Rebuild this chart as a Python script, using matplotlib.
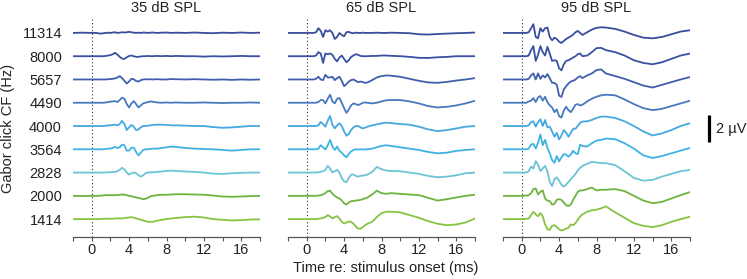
import matplotlib
matplotlib.use("Agg")
import numpy as np
import matplotlib.pyplot as plt

plt.rcParams["font.family"] = ["Liberation Sans", "DejaVu Sans"]
plt.rcParams["font.size"] = 10.5

# time grid (ms) shared by all traces
T_MS = [-2, -1, 0,
        0.5, 0.75, 1.0, 1.25, 1.5, 1.75,
        2.0, 2.25, 2.5, 2.75, 3.0, 3.25,
        3.5, 3.75, 4.0, 4.25, 4.5, 4.75,
        5.0, 5.25, 5.5, 5.75, 6.0, 6.25,
        6.5, 7, 7.5, 8, 8.5, 9,
        10, 11, 12, 13, 14, 15, 16, 17, 18]

CF_LABELS = ["11314", "8000", "5657", "4490", "4000", "3564", "2828", "2000", "1414"]
COLORS = ["#3a4c9c", "#3a50a2", "#3f5fad", "#4679bd", "#45a8de",
          "#3fb2e4", "#6cc3d6", "#6db33f", "#86c341"]
LEVELS = ["35 dB SPL", "65 dB SPL", "95 dB SPL"]

# amplitudes in uV relative to each trace's baseline
WAVES_35 = [
    [0, 0.02, 0, 0, -0.03, -0.05, -0.02, 0, 0.02, 0, 0.03, 0.05, 0, 0.02, 0.05,
     0.03, 0.05, 0.08, 0.05, 0.02, 0, 0.02, 0, 0.03, 0.02, 0, 0.02,
     0.03, 0, 0.02, 0.03, 0, 0.02, 0, 0.03, 0, -0.02, 0.02, 0, 0.03, 0, 0.02],
    [0, 0, 0, 0, 0, 0, 0, 0.02, 0.05, 0.08, 0.15, 0.25, 0.12, -0.05, -0.18,
     -0.2, -0.08, 0.02, 0.05, 0, -0.05, -0.05, -0.02, 0, 0, 0.02, 0,
     0, 0.02, 0, 0.02, 0, 0.02, 0, 0, -0.03, 0, -0.02, 0, 0.02, 0, 0],
    [0, 0, 0, 0, 0, 0, 0, 0, 0.02, 0.03, 0.05, 0.08, 0.15, 0.25, 0.1,
     -0.1, -0.3, -0.15, 0.05, 0.02, -0.12, -0.15, -0.05, 0, 0.02, 0, 0.02,
     0, 0.02, 0, 0, 0.03, 0.02, 0, 0.02, 0, -0.02, 0, -0.03, 0, -0.02, 0],
    [0, 0, 0, 0, 0, 0, 0, 0.02, 0.05, 0.08, 0.1, 0.12, 0.05, 0.2, 0.38,
     0.3, -0.1, -0.35, -0.05, 0.12, -0.1, -0.35, -0.2, -0.05, 0, 0.05, 0.1,
     0.08, 0.02, 0, 0.02, 0, 0.02, 0, 0, 0.02, 0, -0.02, 0, 0, 0.02, 0],
    [0, 0, 0, 0, 0, 0, 0, 0.02, 0.05, 0.05, 0.08, 0.1, 0.05, 0.15, 0.38,
     0.15, -0.3, -0.1, 0.08, -0.05, -0.3, -0.25, -0.1, 0, 0, 0.02, 0.05,
     0.08, 0.1, 0.1, 0.08, 0.05, 0.05, 0.03, 0, 0, -0.08, -0.13, -0.1, -0.05, 0, 0],
    [0, 0, 0, 0, 0, 0, 0, 0.02, 0.05, 0.05, 0.1, 0.18, 0.1, 0.15, 0.35,
     0.3, -0.1, -0.1, 0.12, 0.12, -0.2, -0.45, -0.25, -0.05, 0, 0, 0.02,
     0.05, 0.05, 0.1, 0.15, 0.2, 0.18, 0.1, 0.05, 0.02, 0, -0.05, -0.1, -0.05, 0, 0],
    [0, 0, 0, 0, 0, 0, 0, 0, 0.02, 0.02, 0.05, 0.05, 0.1, 0.2, 0.35,
     0.25, 0, -0.15, -0.05, 0, -0.05, -0.2, -0.3, -0.2, -0.05, 0, 0.02,
     0.02, 0.05, 0.08, 0.12, 0.15, 0.12, 0.08, 0.05, 0, -0.08, -0.1, -0.05, -0.02, 0, 0],
    [0, -0.02, 0, 0, 0, 0.02, 0.03, 0.05, 0.05, 0.05, 0.05, 0.05, 0.05, 0.08, 0.1,
     0.08, 0.05, 0, -0.03, -0.08, -0.12, -0.15, -0.2, -0.25, -0.22, -0.15, -0.05,
     0, 0.05, 0.08, 0.08, 0.1, 0.12, 0.12, 0.1, 0.08, 0.02, -0.05, -0.07, -0.05, -0.02, 0],
    [0, 0, 0, 0, 0, 0.02, 0.02, 0.03, 0.03, 0.03, 0.03, 0.05, 0.05, 0.05, 0.05,
     0.08, 0.1, 0.12, 0.15, 0.1, 0.05, 0, -0.05, -0.1, -0.15, -0.2, -0.2,
     -0.2, -0.12, -0.05, 0, 0.05, 0.08, 0.15, 0.18, 0.12, 0, -0.05, -0.1, -0.08, -0.03, -0.02],
]

WAVES_65 = [
    [0, 0, 0, 0, 0, 0.05, 0.35, 0.15, -0.3, 0.2, 0.1, 0.2, 0, -0.45, -0.3,
     0, -0.15, -0.25, 0.05, 0.08, 0, -0.02, 0.02, 0, 0, 0.02, 0,
     0, 0, 0.02, 0, 0, 0.02, 0, -0.02, -0.1, -0.12, -0.08, -0.05, -0.02, 0, 0.03],
    [0, 0, 0, 0, 0, 0.05, 0.3, 0.2, -0.5, 0.2, 0.15, 0.2, 0.1, -0.2, -0.38,
     -0.1, 0.05, -0.2, -0.45, -0.3, -0.05, 0.05, 0.15, 0.1, 0.02, 0, 0,
     0, 0.02, 0.02, 0.05, 0.05, 0.03, 0, -0.05, -0.12, -0.13, -0.08, -0.05, 0, 0, 0],
    [0, 0, 0, 0, 0, 0.05, 0.2, 0, -0.05, 0.35, 0.15, 0.15, 0.2, -0.05, 0.1,
     0.2, -0.1, -0.5, -0.35, -0.15, -0.05, 0, -0.1, -0.2, -0.15, -0.2, -0.25,
     -0.22, -0.05, 0.15, 0.25, 0.3, 0.28, 0.2, 0.05, -0.1, -0.22, -0.25, -0.18, -0.08, 0, 0.1],
    [0, 0, 0, 0, 0, 0, 0.05, 0.2, 0.2, -0.05, 0.3, 0.6, 0.1, -0.05, 0.3,
     0.35, 0, -0.4, -0.75, -0.5, -0.2, -0.05, -0.1, -0.18, -0.1, 0, 0.02,
     0, -0.05, 0, 0.1, 0.18, 0.2, 0.2, 0.1, -0.05, -0.25, -0.35, -0.3, -0.2, -0.05, 0.15],
    [0, 0, 0, 0, 0, 0, 0.05, 0.3, 0.15, -0.05, 0.4, 0.75, 0.1, -0.18, 0.05,
     0.2, 0, -0.4, -0.72, -0.6, -0.3, -0.1, 0, 0, -0.1, -0.18, -0.12,
     -0.05, 0.05, 0.12, 0.2, 0.25, 0.22, 0.15, 0.1, -0.05, -0.25, -0.38, -0.3, -0.18, -0.05, 0],
    [0, 0, 0, 0, 0, 0, 0.05, 0.3, 0.15, -0.02, 0.3, 0.7, 0.2, -0.05, 0.2,
     -0.1, -0.25, -0.45, -0.6, -0.35, -0.15, -0.05, 0, -0.02, 0, -0.02, 0,
     0, 0.05, 0.15, 0.25, 0.3, 0.25, 0.15, 0.05, -0.05, -0.2, -0.3, -0.25, -0.12, -0.05, 0],
    [0, 0, 0, 0, 0, 0, 0.02, 0.05, 0.1, 0.2, 0.5, 0.3, 0, 0.1, 0.2,
     0, -0.4, -0.65, -0.72, -0.4, -0.15, -0.15, -0.25, -0.3, -0.25, -0.22, -0.2,
     -0.15, 0.05, 0.42, 0.25, 0.15, 0.12, 0.1, 0, -0.1, -0.25, -0.35, -0.3, -0.2, -0.05, 0],
    [0, 0, 0, 0, 0, 0, 0.02, 0.05, 0.1, 0.2, 0.35, 0.38, 0.15, 0, -0.12,
     -0.2, -0.35, -0.55, -0.65, -0.5, -0.4, -0.38, -0.35, -0.33, -0.3, -0.25, -0.18,
     -0.13, 0.1, 0.38, 0.2, 0.15, 0.2, 0.15, 0.1, 0.05, -0.15, -0.35, -0.25, -0.12, 0, 0.08],
    [0, 0, 0, 0, 0, 0, 0.02, 0.05, 0.1, 0.15, 0.3, 0.2, 0.05, 0.15, 0.22,
     0.05, -0.2, -0.33, -0.25, -0.18, -0.2, -0.35, -0.55, -0.7, -0.72, -0.6, -0.45,
     -0.35, -0.2, 0.15, 0.45, 0.55, 0.55, 0.5, 0.3, 0.1, -0.15, -0.35, -0.45, -0.4, -0.25, 0.05],
]

WAVES_95 = [
    [0, 0, 0, 0, 0.05, 0.35, 0.65, -0.3, -0.4, 0.35, 0.1, 0.35, 0.4, -0.3, -0.55,
     -0.35, -0.45, -0.65, -0.75, -0.6, -0.45, -0.35, -0.25, -0.12, 0.05, 0.15, 0,
     -0.15, 0.05, 0.25, 0.38, 0.42, 0.4, 0.3, 0.1, -0.15, -0.35, -0.4, -0.3, -0.1, 0.1, 0.2],
    [0, 0, 0, 0, 0.05, 0.45, 0.75, -0.35, 0.1, 0.75, 0.3, 0.05, 0.7, 0.2, -0.35,
     -0.3, -0.35, -0.9, -1.05, -0.6, -0.35, -0.3, -0.2, -0.1, 0, 0.15, 0.2,
     0, 0.05, 0.3, 0.6, 0.62, 0.45, 0.3, 0.05, -0.3, -0.5, -0.6, -0.45, -0.2, 0.05, 0.2],
    [0, 0, 0, 0, 0.05, 0.3, 0.45, 0, 0.45, 0.05, 0.3, 0.15, 0.4, 0.1, -0.25,
     -0.25, -0.4, -1.2, -1.3, -0.75, -0.5, -0.3, -0.15, -0.1, 0, 0.15, 0.25,
     0.1, 0.3, 0.45, 0.7, 0.75, 0.45, 0.25, 0.05, -0.2, -0.45, -0.6, -0.4, -0.2, 0, 0.18],
    [0, 0, 0, 0, 0.1, 0.15, 0.35, 0.05, 0.4, 0.5, 0.15, 0.45, 0.05, -0.2, -0.35,
     -0.7, -0.5, -1.0, -1.1, -0.6, -0.3, -0.55, -0.7, -0.45, -0.15, -0.1, -0.2,
     -0.15, 0.1, 0.3, 0.45, 0.55, 0.6, 0.55, 0.25, -0.1, -0.4, -0.55, -0.45, -0.25, -0.05, 0.15],
    [0, 0, 0, 0, 0.05, 0.3, 0.35, -0.05, 0.3, 0.5, 0, 0.45, -0.1, -0.05, -0.4,
     -0.8, -0.5, -1.0, -0.7, -0.3, -0.5, -0.8, -0.5, -0.2, -0.2, 0, 0.25,
     0.33, 0.35, 0.45, 0.6, 0.7, 0.7, 0.6, 0.35, 0, -0.4, -0.7, -0.55, -0.3, 0, 0.2],
    [0, 0, 0, 0, 0.05, 0.35, 0.4, 0.05, 0.5, 1.1, 0.3, 0.7, 0.1, -0.3, -0.8,
     -1.0, -0.5, -0.9, -0.6, -0.35, -0.4, -0.55, -0.4, -0.1, -0.3, -0.35, 0.35,
     0.25, 0.2, 0.45, 0.65, 0.7, 0.8, 0.75, 0.45, 0.05, -0.45, -0.65, -0.5, -0.3, -0.1, 0.1],
    [0, 0, 0, 0, 0.1, 0.45, 0.3, 0.85, 0.6, 0.1, 0.3, 0.5, 0.1, -0.7, -1.0,
     -0.5, -0.35, -0.6, -0.9, -1.05, -0.9, -0.7, -0.5, -0.3, -0.1, 0.15, 0.35,
     0.5, 0.65, 0.8, 0.75, 0.7, 0.7, 0.55, 0.1, -0.4, -0.6, -0.55, -0.3, -0.1, 0.1, 0.2],
    [0, 0, 0, 0.02, 0.05, 0.2, 0.5, 0.55, 0.1, 0.3, 0.4, -0.2, -0.35, -0.4, -0.65,
     -0.6, -0.3, -0.25, -0.3, -0.5, -0.7, -0.75, -0.65, -0.3, 0, 0.3, 0.4,
     0.4, 0.5, 0.62, 0.4, 0.45, 0.45, 0.5, 0.35, 0, -0.35, -0.55, -0.45, -0.2, 0.05, 0.28],
    [0, 0, 0, 0.02, 0.05, 0.3, 0.55, 0.35, 0.2, 0.45, 0.2, -0.4, -0.75, -0.8, -0.5,
     -0.45, -0.6, -0.75, -0.85, -0.8, -0.7, -0.65, -0.4, -0.45, -0.3, -0.05, 0.2,
     0.35, 0.55, 0.65, 0.7, 0.8, 0.95, 0.5, 0.1, -0.3, -0.5, -0.6, -0.45, -0.2, 0, 0.18],
]

SPACING = 1.73  # vertical offset between traces (uV)

fig = plt.figure(figsize=(7.47, 2.79), dpi=100)
W, H = 747, 279
lefts = [73, 288, 503]

axes = []
for k, (level, waves) in enumerate(zip(LEVELS, [WAVES_35, WAVES_65, WAVES_95])):
    ax = fig.add_axes([lefts[k] / W, 1 - 237 / H, 187 / W, 219 / H])
    axes.append(ax)
    ax.axvline(0, color="#333333", ls=(0, (1, 2.2)), lw=0.8)
    for i, wave in enumerate(waves):
        assert len(wave) == len(T_MS), (level, i, len(wave))
        y = np.array(wave) - i * SPACING
        ax.plot(T_MS, y, color=COLORS[i], lw=1.3, solid_joinstyle="round")
    ax.set_xlim(-2, 18)
    ax.set_ylim(-15.17, 1.11)
    for s in ["top", "right", "left"]:
        ax.spines[s].set_visible(False)
    ax.spines["bottom"].set_color("#555555")
    ax.spines["bottom"].set_linewidth(0.9)
    ticks = np.arange(-2, 19, 2)
    ax.set_xticks(ticks)
    ax.set_xticklabels([str(t) if t % 4 == 0 and 0 <= t <= 16 else "" for t in ticks])
    ax.tick_params(axis="x", length=3, width=0.8, color="#555555", pad=1.5,
                   labelcolor="#222222")
    ax.set_title(level, pad=4, fontsize=10.5, color="#222222")
    if k == 0:
        ax.set_yticks([-i * SPACING for i in range(len(CF_LABELS))])
        ax.set_yticklabels(CF_LABELS, color="#222222")
        ax.tick_params(axis="y", length=0, pad=8)
    else:
        ax.set_yticks([])

fig.text(8 / W, 1 - 128 / H, "Gabor click CF (Hz)", rotation=90,
         ha="center", va="center", color="#222222")
fig.text(386 / W, 1 - 268 / H, "Time re: stimulus onset (ms)",
         ha="center", va="center", color="#222222")

# 2 uV scale bar
ax3 = axes[2]
ax3.plot([20.03, 20.03], [-6.11, -8.11], color="black", lw=2.3,
         clip_on=False, solid_capstyle="butt")
ax3.text(20.75, -7.11, "2 µV", ha="left", va="center", color="#222222", clip_on=False)

fig.savefig("out.png", dpi=100)
